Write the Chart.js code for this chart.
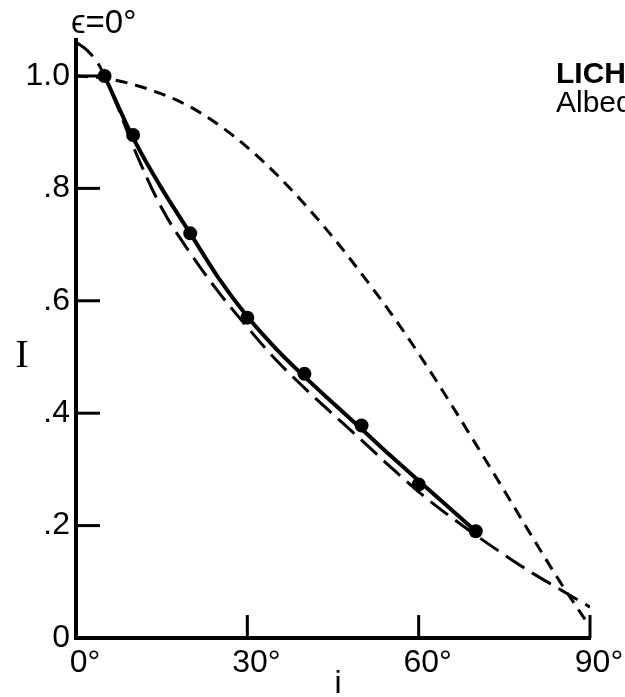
<!DOCTYPE html>
<html><head><meta charset="utf-8">
<script src="https://cdn.jsdelivr.net/npm/chart.js@4.4.0/dist/chart.umd.min.js"></script>
<style>html,body{margin:0;padding:0;background:#fff;} canvas{display:block;}</style>
</head><body>
<canvas id="c" width="625" height="697"></canvas>
<script>
const xTicks = [0, 30, 60, 90];
const xTickLabels = ['0°', '30°', '60°', '90°'];
const yTicks = [0, 0.2, 0.4, 0.6, 0.8, 1.0];
const yTickLabels = ['0', '.2', '.4', '.6', '.8', '1.0'];

const pointAngles = [5, 10, 20, 30, 40, 50, 60, 70];
const pointValues = [1.0, 0.895, 0.72, 0.57, 0.47, 0.378, 0.273, 0.19];

const solidAngles = [5, 10, 15, 20, 25, 30, 35, 40, 45, 50, 55, 60, 65, 70];
const solidValues = [1.0, 0.89, 0.8, 0.72, 0.64, 0.572, 0.515, 0.465, 0.418, 0.372, 0.325, 0.28, 0.235, 0.19];

const longDashAngles = [0, 2, 4, 5, 7.5, 10, 15, 20, 25, 30, 35, 40, 45, 50, 55, 60, 65, 70, 75, 80, 85, 90];
const longDashValues = [1.06, 1.045, 1.02, 1.0, 0.94, 0.875, 0.765, 0.685, 0.615, 0.553, 0.495, 0.445, 0.398, 0.352, 0.305, 0.26, 0.22, 0.183, 0.148, 0.115, 0.085, 0.055];

const shortDashAngles = [0, 5, 10, 15, 20, 25, 30, 35, 40, 45, 50, 55, 60, 65, 70, 75, 80, 85, 90];
const shortDashValues = [1.0, 0.996, 0.985, 0.968, 0.945, 0.913, 0.873, 0.826, 0.772, 0.713, 0.648, 0.58, 0.506, 0.427, 0.345, 0.262, 0.178, 0.096, 0.02];

const toXY = (xs, ys) => xs.map((v, i) => ({x: v, y: ys[i]}));

const FONT = "'Liberation Sans', 'DejaVu Sans', sans-serif";

const decor = {
  id: 'decor',
  beforeDraw(chart) {
    const ctx = chart.ctx;
    ctx.save();
    ctx.fillStyle = '#fff';
    ctx.fillRect(0, 0, chart.width, chart.height);
    ctx.restore();
  },
  afterDraw(chart) {
    const {ctx, scales: {x, y}} = chart;
    ctx.save();
    ctx.strokeStyle = '#000';
    ctx.lineWidth = 3;
    yTicks.forEach(v => {
      if (v === 0) return;
      const py = y.getPixelForValue(v);
      ctx.beginPath(); ctx.moveTo(x.left, py); ctx.lineTo(x.left + 24, py); ctx.stroke();
    });
    xTicks.forEach(v => {
      if (v === 0) return;
      const px = x.getPixelForValue(v);
      ctx.beginPath(); ctx.moveTo(px, y.bottom); ctx.lineTo(px, y.bottom - 23); ctx.stroke();
    });
    ctx.fillStyle = '#000';
    ctx.textBaseline = 'middle';
    ctx.textAlign = 'left';
    ctx.font = "33px " + FONT;
    ctx.fillText('ϵ=0°', 71, 24);
    ctx.textAlign = 'center';
    ctx.font = "40px 'Liberation Serif', 'DejaVu Serif', serif";
    ctx.fillText('I', 22, 356);
    ctx.font = "32px " + FONT;
    ctx.fillText('i', 338, 684);
    ctx.textAlign = 'left';
    ctx.font = "bold 30px " + FONT;
    ctx.fillText('LICHEN', 556, 75);
    ctx.font = "30px " + FONT;
    ctx.fillText('Albedo', 556, 104);
    ctx.restore();
  }
};

new Chart(document.getElementById('c'), {
  type: 'scatter',
  data: {
    datasets: [
      {
        label: 'measured',
        data: toXY(pointAngles, pointValues),
        showLine: false,
        pointRadius: 7,
        pointBackgroundColor: '#000',
        pointBorderColor: '#000',
        pointBorderWidth: 0
      },
      {
        label: 'fit',
        data: toXY(solidAngles, solidValues),
        showLine: true,
        borderColor: '#000',
        borderWidth: 4,
        pointRadius: 0,
        cubicInterpolationMode: 'monotone'
      },
      {
        label: 'long dash',
        data: toXY(longDashAngles, longDashValues),
        showLine: true,
        borderColor: '#000',
        borderWidth: 3,
        borderDash: [22, 9],
        pointRadius: 0,
        cubicInterpolationMode: 'monotone'
      },
      {
        label: 'short dash',
        data: toXY(shortDashAngles, shortDashValues),
        showLine: true,
        borderColor: '#000',
        borderWidth: 3,
        borderDash: [12, 8],
        pointRadius: 0,
        cubicInterpolationMode: 'monotone'
      }
    ]
  },
  options: {
    responsive: false,
    animation: false,
    devicePixelRatio: 1,
    layout: {padding: {top: 40, right: 35, left: 0, bottom: 0}},
    plugins: {legend: {display: false}, tooltip: {enabled: false}},
    scales: {
      x: {
        type: 'linear', min: 0, max: 90,
        afterBuildTicks: s => { s.ticks = xTicks.map(v => ({value: v})); },
        afterFit: s => { s.height = 59; },
        grid: {display: false, drawTicks: false},
        border: {display: true, color: '#000', width: 4},
        ticks: {
          color: '#000', padding: 6, labelOffset: 9, maxRotation: 0, autoSkip: false,
          font: {family: FONT, size: 32},
          callback: v => xTickLabels[xTicks.indexOf(v)]
        }
      },
      y: {
        type: 'linear', min: 0, max: 1.064,
        afterBuildTicks: s => { s.ticks = yTicks.map(v => ({value: v})); },
        afterFit: s => { s.width = 76; },
        grid: {display: false, drawTicks: false},
        border: {display: true, color: '#000', width: 4},
        ticks: {
          color: '#000', padding: 6, autoSkip: false,
          font: {family: FONT, size: 32},
          callback: v => yTickLabels[yTicks.indexOf(v)]
        }
      }
    }
  },
  plugins: [decor]
});
</script>
</body></html>
